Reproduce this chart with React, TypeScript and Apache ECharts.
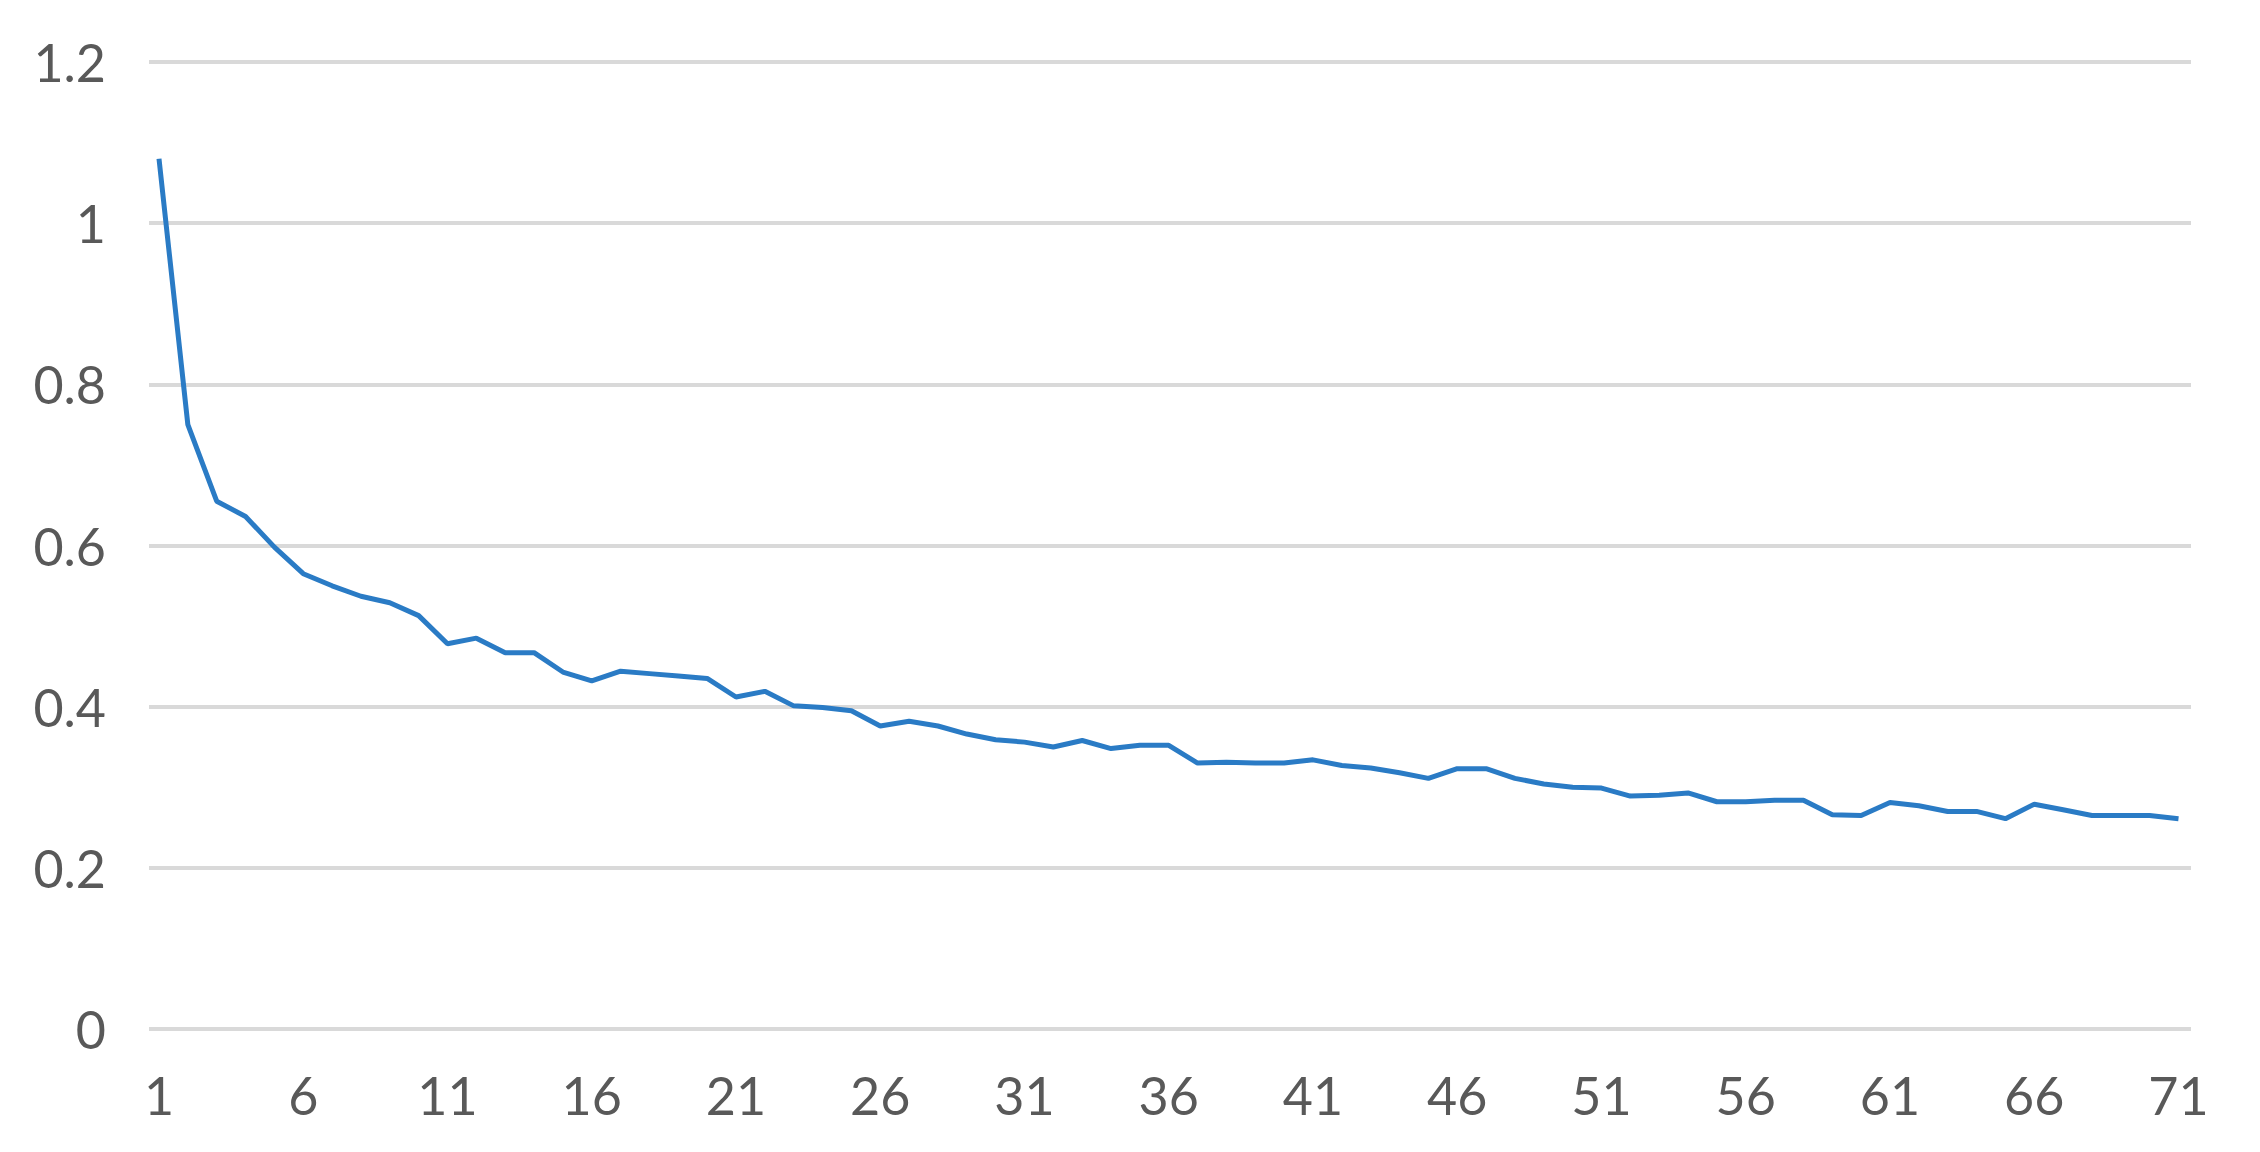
import React, { useEffect, useRef } from "react";
import * as echarts from "echarts";

const categories: string[] = Array.from({ length: 71 }, (_, i) => String(i + 1));

const lossValues: number[] = [
  1.08, 0.75, 0.655, 0.636, 0.598, 0.565, 0.55, 0.537, 0.529, 0.513,
  0.478, 0.485, 0.467, 0.467, 0.443, 0.432, 0.444, 0.441, 0.438, 0.435,
  0.412, 0.419, 0.401, 0.399, 0.395, 0.376, 0.382, 0.376, 0.366, 0.359,
  0.356, 0.35, 0.358, 0.348, 0.352, 0.352, 0.33, 0.331, 0.33, 0.33,
  0.334, 0.327, 0.324, 0.318, 0.311, 0.323, 0.323, 0.311, 0.304, 0.3,
  0.299, 0.289, 0.29, 0.293, 0.282, 0.282, 0.284, 0.284, 0.266, 0.265,
  0.281, 0.277, 0.27, 0.27, 0.261, 0.279, 0.272, 0.265, 0.265, 0.265,
  0.261,
];

const yMin = 0;
const yMax = 1.2;
const yStep = 0.2;

const FONT = "Lato";
const TEXT_COLOR = "#595959";
const GRID_COLOR = "#D9D9D9";
const LINE_COLOR = "#2A7BC5";

export default function App() {
  const ref = useRef<HTMLDivElement>(null);

  useEffect(() => {
    if (!ref.current) return;
    const chart = echarts.init(ref.current, null, { renderer: "svg" });
    chart.setOption({
      animation: false,
      backgroundColor: "#ffffff",
      grid: [
        { left: 149, right: 69, top: 62, bottom: 123, containLabel: false },
        { left: 159, right: 81.5, top: 62, bottom: 123, containLabel: false },
      ],
      xAxis: [
        {
          type: "category",
          gridIndex: 0,
          data: categories,
          show: false,
        },
        {
          type: "category",
          gridIndex: 1,
          data: categories,
          boundaryGap: false,
          axisLine: { show: false },
          axisTick: { show: false },
          splitLine: { show: false },
          axisLabel: {
            interval: 4,
            margin: 40,
            fontFamily: FONT,
            fontSize: 52,
            color: TEXT_COLOR,
          },
        },
      ],
      yAxis: [
        {
          type: "value",
          gridIndex: 0,
          min: yMin,
          max: yMax,
          interval: yStep,
          axisLine: { show: false },
          axisTick: { show: false },
          splitLine: { show: true, lineStyle: { color: GRID_COLOR, width: 4 } },
          axisLabel: {
            margin: 43,
            fontFamily: FONT,
            fontSize: 52,
            color: TEXT_COLOR,
          },
        },
        {
          type: "value",
          gridIndex: 1,
          min: yMin,
          max: yMax,
          interval: yStep,
          show: false,
          splitLine: { show: false },
        },
      ],
      series: [
        {
          type: "line",
          xAxisIndex: 1,
          yAxisIndex: 1,
          data: lossValues,
          showSymbol: false,
          symbol: "none",
          lineStyle: { color: LINE_COLOR, width: 5 },
        },
      ],
    });
    return () => chart.dispose();
  }, []);

  return (
    <div
      ref={ref}
      style={{ position: "fixed", left: 0, top: 0, width: 2260, height: 1152 }}
    />
  );
}
